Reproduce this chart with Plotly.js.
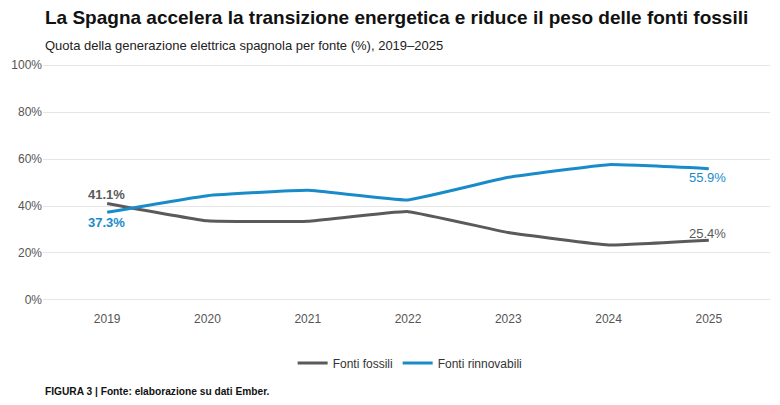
<!DOCTYPE html>
<html>
<head>
<meta charset="utf-8">
<script src="https://cdn.plot.ly/plotly-3.0.1.min.js"></script>
<style>html,body{margin:0;padding:0;background:#fff;}#chart{width:780px;height:405px;}</style>
</head>
<body>
<div id="chart"></div>
<script>
const years = [2019, 2020, 2021, 2022, 2023, 2024, 2025];
const fossili = [41.1, 33.7, 33.5, 37.6, 28.7, 23.4, 25.4];
const rinnovabili = [37.3, 44.4, 46.7, 42.6, 52.2, 57.6, 55.9];
const yTicks = [0, 20, 40, 60, 80, 100];
const yTickLabels = ['0%', '20%', '40%', '60%', '80%', '100%'];

const grey = '#5a5a5a';
const blue = '#1a8bc9';
const FONT = 'Liberation Sans, Arial, sans-serif';

const traces = [
  {
    x: years, y: fossili, name: 'Fonti fossili', type: 'scatter', mode: 'lines',
    line: {color: grey, width: 3, shape: 'spline', smoothing: 0.3}, hoverinfo: 'skip'
  },
  {
    x: years, y: rinnovabili, name: 'Fonti rinnovabili', type: 'scatter', mode: 'lines',
    line: {color: blue, width: 3, shape: 'spline', smoothing: 0.3}, hoverinfo: 'skip'
  }
];

const last = years.length - 1;
function lab(x, y, bold, color, yshift) {
  const t = y.toFixed(1) + '%';
  return {x: x, y: y, xref: 'x', yref: 'y', text: bold ? '<b>' + t + '</b>' : t,
          showarrow: false, xanchor: 'center', yanchor: 'middle', xshift: -1, yshift: yshift,
          font: {family: FONT, size: 13, color: color}};
}

const layout = {
  width: 780, height: 405,
  margin: {l: 43, r: 10, t: 55, b: 95},
  paper_bgcolor: '#ffffff', plot_bgcolor: '#ffffff',
  font: {family: FONT, color: '#555555', size: 12},
  showlegend: true,
  legend: {orientation: 'h', x: 0.505, xanchor: 'center', y: -0.208, yanchor: 'middle',
           font: {size: 12, color: '#333333'}},
  xaxis: {
    range: [2018.36, 2025.61], tickvals: years, ticktext: years.map(String),
    showgrid: false, zeroline: false, showline: false, ticks: '',
    tickfont: {size: 12, color: '#555555'}, fixedrange: true
  },
  yaxis: {
    range: [-4.26, 104.26], tickvals: yTicks, ticktext: yTickLabels,
    showgrid: true, gridcolor: '#e6e6e6', gridwidth: 1, zeroline: false, showline: false,
    ticks: '', tickfont: {size: 12, color: '#555555'}, fixedrange: true
  },
  annotations: [
    {text: 'La Spagna accelera la transizione energetica e riduce il peso delle fonti fossili',
     xref: 'paper', yref: 'paper', x: 0, y: 1.149, xanchor: 'left', yanchor: 'middle', showarrow: false,
     font: {family: FONT, size: 19, color: '#111111', weight: 'bold'}},
    {text: 'Quota della generazione elettrica spagnola per fonte (%), 2019–2025',
     xref: 'paper', yref: 'paper', x: 0, y: 1.039, xanchor: 'left', yanchor: 'middle', showarrow: false,
     font: {family: FONT, size: 13, color: '#222222'}},
    {text: '<b>FIGURA 3 | Fonte: elaborazione su dati Ember.</b>',
     xref: 'paper', yref: 'paper', x: 0, y: -0.318, xanchor: 'left', yanchor: 'middle', showarrow: false,
     font: {family: FONT, size: 10.2, color: '#111111'}},
    lab(years[0], fossili[0], true, grey, 8.5),
    lab(years[0], rinnovabili[0], true, blue, -10),
    lab(years[last], rinnovabili[last], false, blue, -9),
    lab(years[last], fossili[last], false, grey, 7)
  ]
};

Plotly.newPlot('chart', traces, layout, {displayModeBar: false, staticPlot: true});
</script>
</body>
</html>
